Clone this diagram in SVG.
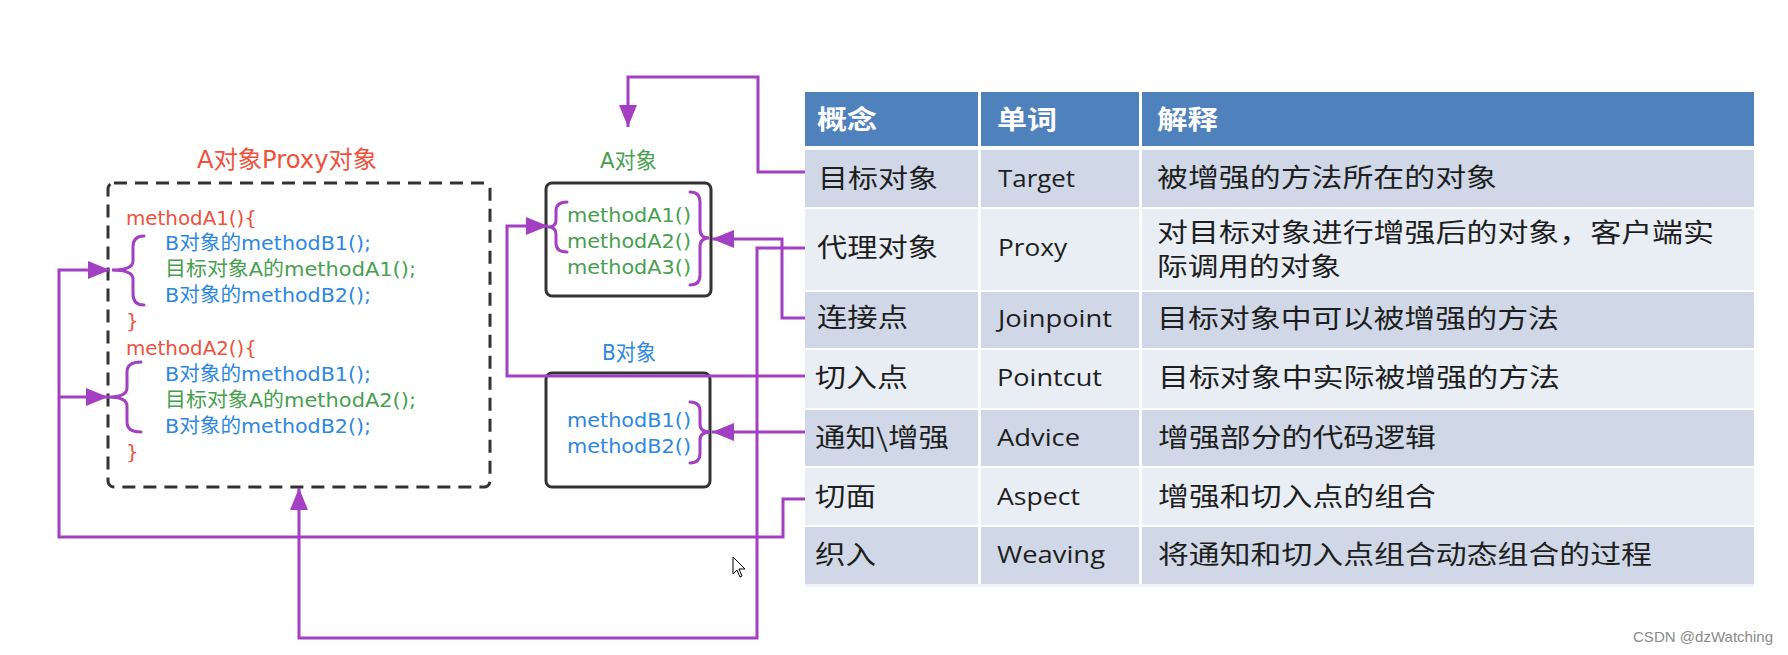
<svg xmlns="http://www.w3.org/2000/svg" width="1788" height="655" viewBox="0 0 1788 655">
<defs>
<marker id="arr" markerUnits="userSpaceOnUse" markerWidth="22" markerHeight="18" refX="22" refY="9" orient="auto">
<path d="M0,0 L22,9 L0,18 z" fill="#a33fc2"/>
</marker>
<style>
.code{font-family:"DejaVu Sans","Noto Sans CJK SC",sans-serif;font-size:20px}
.red{fill:#f0513d}
.blue{fill:#2d87e2}
.green{fill:#46a04e}
.cn{font-family:"Noto Sans CJK SC",sans-serif;font-size:26px;fill:#1e1e1e}
.hd{font-family:"Noto Sans CJK SC",sans-serif;font-size:26px;font-weight:bold;fill:#ffffff}
.en{font-family:"Open Sans","Noto Sans",sans-serif;font-size:23px;fill:#1e1e1e}
.conn{fill:none;stroke:#a33fc2;stroke-width:3;stroke-linejoin:miter}
.brace{fill:none;stroke:#a33fc2;stroke-width:3;stroke-linecap:round}
.box{fill:#ffffff;stroke:#333333;stroke-width:3}
.dark{fill:#d0d8e8}
.light{fill:#e9edf4}
.head{fill:#4f81bd}
</style>
</defs>
<rect x="0" y="0" width="1788" height="655" fill="#ffffff"/>

<g id="proxy-object">
<text class="code red" x="197" y="168" style="font-size:24px" textLength="180" lengthAdjust="spacingAndGlyphs">A对象Proxy对象</text>
<rect x="108" y="183" width="382" height="304" rx="6" fill="none" stroke="#333333" stroke-width="3" stroke-dasharray="13 8"/>
<text class="code red" x="126" y="225" textLength="131" lengthAdjust="spacingAndGlyphs">methodA1(){</text>
<text class="code blue" x="165" y="250" textLength="206" lengthAdjust="spacingAndGlyphs">B对象的methodB1();</text>
<text class="code green" x="165" y="276" textLength="251" lengthAdjust="spacingAndGlyphs">目标对象A的methodA1();</text>
<text class="code blue" x="165" y="302" textLength="206" lengthAdjust="spacingAndGlyphs">B对象的methodB2();</text>
<text class="code red" x="126" y="328">}</text>
<text class="code red" x="126" y="355" textLength="131" lengthAdjust="spacingAndGlyphs">methodA2(){</text>
<text class="code blue" x="165" y="381" textLength="206" lengthAdjust="spacingAndGlyphs">B对象的methodB1();</text>
<text class="code green" x="165" y="407" textLength="251" lengthAdjust="spacingAndGlyphs">目标对象A的methodA2();</text>
<text class="code blue" x="165" y="433" textLength="206" lengthAdjust="spacingAndGlyphs">B对象的methodB2();</text>
<text class="code red" x="126" y="459">}</text>
<path class="brace" d="M144,236 Q133,236 133,247 L133,261 Q133,270 112,270 Q133,270 133,279 L133,294 Q133,305 144,305"/>
<path class="brace" d="M141,362 Q127,362 127,372 L127,388 Q127,397 108,397 Q127,397 127,406 L127,422 Q127,432 141,432"/>
</g>

<g id="a-object">
<text class="code green" x="600" y="168" style="font-size:22px" textLength="57" lengthAdjust="spacingAndGlyphs">A对象</text>
<rect class="box" x="546" y="183" width="165" height="113" rx="6"/>
<text class="code green" x="567" y="222" textLength="124" lengthAdjust="spacingAndGlyphs">methodA1()</text>
<text class="code green" x="567" y="248" textLength="124" lengthAdjust="spacingAndGlyphs">methodA2()</text>
<text class="code green" x="567" y="274" textLength="124" lengthAdjust="spacingAndGlyphs">methodA3()</text>
<path class="brace" d="M567,202 Q556,202 556,211 L556,220 Q556,227 548,227 Q556,227 556,234 L556,243 Q556,252 567,252"/>
<path class="brace" d="M690,192 Q700,192 700,202 L700,229 Q700,238 709,238 Q700,238 700,247 L700,275 Q700,285 690,285"/>
</g>

<g id="b-object">
<text class="code blue" x="602" y="360" style="font-size:22px" textLength="54" lengthAdjust="spacingAndGlyphs">B对象</text>
<rect class="box" x="546" y="373" width="164" height="114" rx="6"/>
<text class="code blue" x="567" y="427" textLength="124" lengthAdjust="spacingAndGlyphs">methodB1()</text>
<text class="code blue" x="567" y="453" textLength="124" lengthAdjust="spacingAndGlyphs">methodB2()</text>
<path class="brace" d="M690,402 Q700,402 700,411 L700,424 Q700,432 710,432 Q700,432 700,440 L700,453 Q700,463 690,463"/>
</g>

<g id="table">
<rect class="head" x="805" y="92" width="173" height="54"/>
<rect class="head" x="981" y="92" width="158" height="54"/>
<rect class="head" x="1142" y="92" width="612" height="54"/>
<text class="hd" x="817" y="129" textLength="60" lengthAdjust="spacingAndGlyphs">概念</text>
<text class="hd" x="997" y="129" textLength="60" lengthAdjust="spacingAndGlyphs">单词</text>
<text class="hd" x="1157" y="129" textLength="61" lengthAdjust="spacingAndGlyphs">解释</text>

<g id="row-target">
<rect class="dark" x="805" y="150" width="173" height="57"/>
<rect class="dark" x="981" y="150" width="158" height="57"/>
<rect class="dark" x="1142" y="150" width="612" height="57"/>
<text class="cn" x="818" y="188" textLength="120" lengthAdjust="spacingAndGlyphs">目标对象</text>
<text class="en" x="998" y="187" textLength="77" lengthAdjust="spacingAndGlyphs">Target</text>
<text class="cn" x="1157" y="187" textLength="340" lengthAdjust="spacingAndGlyphs">被增强的方法所在的对象</text>
</g>
<g id="row-proxy">
<rect class="light" x="805" y="209" width="173" height="81"/>
<rect class="light" x="981" y="209" width="158" height="81"/>
<rect class="light" x="1142" y="209" width="612" height="81"/>
<text class="cn" x="817" y="257" textLength="121" lengthAdjust="spacingAndGlyphs">代理对象</text>
<text class="en" x="998" y="256" textLength="69" lengthAdjust="spacingAndGlyphs">Proxy</text>
<text class="cn" x="1157" y="242" textLength="557" lengthAdjust="spacingAndGlyphs">对目标对象进行增强后的对象，客户端实</text>
<text class="cn" x="1157" y="276" textLength="184" lengthAdjust="spacingAndGlyphs">际调用的对象</text>
</g>
<g id="row-joinpoint">
<rect class="dark" x="805" y="292" width="173" height="56"/>
<rect class="dark" x="981" y="292" width="158" height="56"/>
<rect class="dark" x="1142" y="292" width="612" height="56"/>
<text class="cn" x="817" y="327" textLength="91" lengthAdjust="spacingAndGlyphs">连接点</text>
<text class="en" x="998" y="327" textLength="114" lengthAdjust="spacingAndGlyphs">Joinpoint</text>
<text class="cn" x="1157" y="328" textLength="402" lengthAdjust="spacingAndGlyphs">目标对象中可以被增强的方法</text>
</g>
<g id="row-pointcut">
<rect class="light" x="805" y="350" width="173" height="58"/>
<rect class="light" x="981" y="350" width="158" height="58"/>
<rect class="light" x="1142" y="350" width="612" height="58"/>
<text class="cn" x="815" y="387" textLength="93" lengthAdjust="spacingAndGlyphs">切入点</text>
<text class="en" x="997" y="386" textLength="105" lengthAdjust="spacingAndGlyphs">Pointcut</text>
<text class="cn" x="1158" y="387" textLength="402" lengthAdjust="spacingAndGlyphs">目标对象中实际被增强的方法</text>
</g>
<g id="row-advice">
<rect class="dark" x="805" y="410" width="173" height="56"/>
<rect class="dark" x="981" y="410" width="158" height="56"/>
<rect class="dark" x="1142" y="410" width="612" height="56"/>
<text class="cn" x="815" y="447" textLength="134" lengthAdjust="spacingAndGlyphs">通知\增强</text>
<text class="en" x="997" y="446" textLength="83" lengthAdjust="spacingAndGlyphs">Advice</text>
<text class="cn" x="1158" y="447" textLength="278" lengthAdjust="spacingAndGlyphs">增强部分的代码逻辑</text>
</g>
<g id="row-aspect">
<rect class="light" x="805" y="468" width="173" height="57"/>
<rect class="light" x="981" y="468" width="158" height="57"/>
<rect class="light" x="1142" y="468" width="612" height="57"/>
<text class="cn" x="815" y="506" textLength="61" lengthAdjust="spacingAndGlyphs">切面</text>
<text class="en" x="997" y="505" textLength="83" lengthAdjust="spacingAndGlyphs">Aspect</text>
<text class="cn" x="1158" y="506" textLength="278" lengthAdjust="spacingAndGlyphs">增强和切入点的组合</text>
</g>
<g id="row-weaving">
<rect class="dark" x="805" y="527" width="173" height="57"/>
<rect class="dark" x="981" y="527" width="158" height="57"/>
<rect class="dark" x="1142" y="527" width="612" height="57"/>
<text class="cn" x="815" y="564" textLength="61" lengthAdjust="spacingAndGlyphs">织入</text>
<text class="en" x="997" y="563" textLength="108" lengthAdjust="spacingAndGlyphs">Weaving</text>
<text class="cn" x="1158" y="564" textLength="494" lengthAdjust="spacingAndGlyphs">将通知和切入点组合动态组合的过程</text>
</g>
<rect x="805" y="584" width="949" height="3" fill="#f1f4f9"/>
</g>

<g id="connectors">
<path class="conn" d="M805,172 H758 V77 H628 V127" marker-end="url(#arr)"/>
<path class="conn" d="M805,248 H757 V638 H299 V488" marker-end="url(#arr)"/>
<path class="conn" d="M805,318 H782 V239 H712" marker-end="url(#arr)"/>
<path class="conn" d="M805,376 H507 V226 H548" marker-end="url(#arr)"/>
<path class="conn" d="M805,432 H712" marker-end="url(#arr)"/>
<path class="conn" d="M805,499 H783 V537 H59 V270 H110" marker-end="url(#arr)"/>
<path class="conn" d="M59,397 H108" marker-end="url(#arr)"/>
</g>

<path d="M733,557 L733,574 L737,570 L740,577 L742,576 L739,569 L745,569 Z" fill="#ffffff" stroke="#000000" stroke-width="1"/>
<text x="1633" y="642" style="font-family:'Liberation Sans',sans-serif;font-size:15px;fill:#8a8a8a" textLength="140" lengthAdjust="spacingAndGlyphs">CSDN @dzWatching</text>
</svg>
